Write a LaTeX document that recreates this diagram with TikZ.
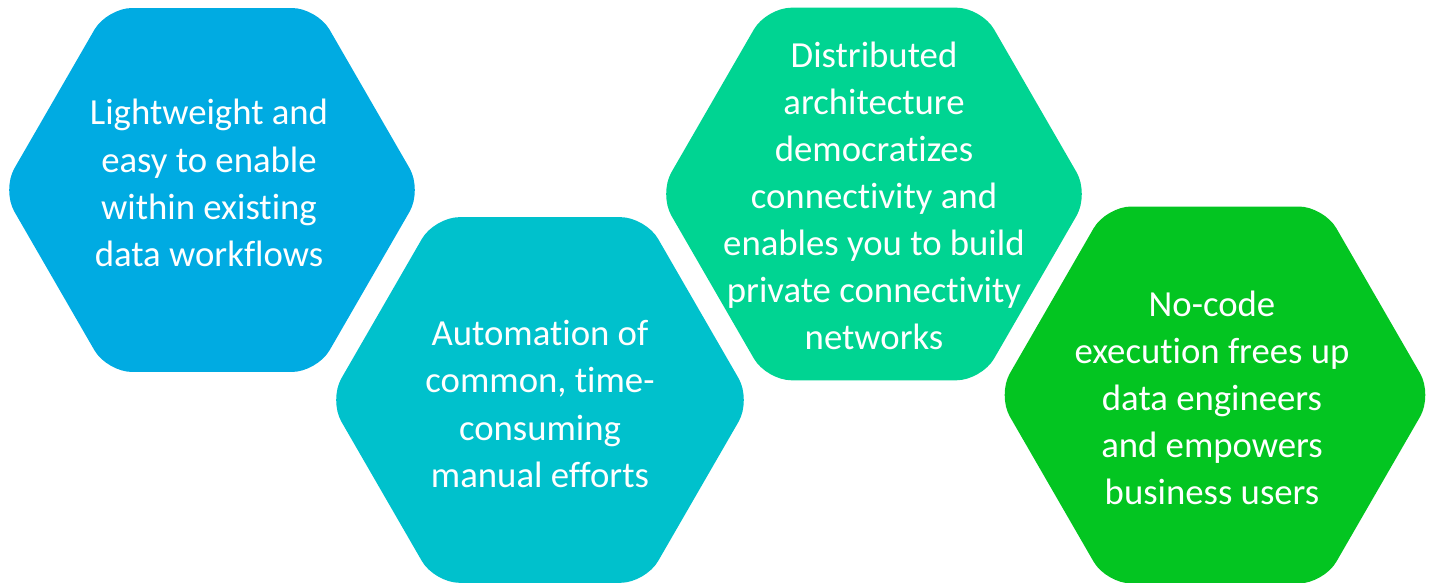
\documentclass[tikz,border=0pt]{standalone}
\usepackage{fontspec}
\setmainfont[Ligatures=NoCommon]{Carlito}
\usetikzlibrary{shapes.geometric}

\definecolor{hexblue}{RGB}{0,171,226}
\definecolor{hexteal}{RGB}{0,193,204}
\definecolor{hexmint}{RGB}{0,212,146}
\definecolor{hexgreen}{RGB}{3,197,33}

\tikzset{
  hexbox/.style={regular polygon, regular polygon sides=6, inner sep=0pt,
    rounded corners=0.25cm, draw=none},
  hextext/.style={text=white, align=center, inner sep=0pt,
    font=\fontsize{10.45}{13.4}\selectfont},
}

\begin{document}
\begin{tikzpicture}[x=0.01cm,y=-0.01cm]

%% page frame, one unit per pixel
\useasboundingbox (0,0) rectangle (1432,583);

% lightweight
\node[hexbox, fill=hexblue, minimum size=4.2cm] (light) at (212,190) {};
\node[hextext] (lighttext) at (209,183) {Lightweight and\\easy to enable\\within existing\\data workflows};

% automation
\node[hexbox, fill=hexteal, minimum size=4.22cm] (auto) at (540,400) {};
\node[hextext] (autotext) at (540,404) {Automation of\\common, time-\\consuming\\manual efforts};

% distributed
\node[hexbox, fill=hexmint, minimum size=4.3cm] (dist) at (874,194) {};
\node[hextext] (disttext) at (874,196) {Distributed\\architecture\\democratizes\\connectivity and\\enables you to build\\private connectivity\\networks};

% no-code
\node[hexbox, fill=hexgreen, minimum size=4.35cm] (nocode) at (1215,395) {};
\node[hextext] (nocodetext) at (1212,398) {No-code\\execution frees up\\data engineers\\and empowers\\business users};

\end{tikzpicture}
\end{document}
